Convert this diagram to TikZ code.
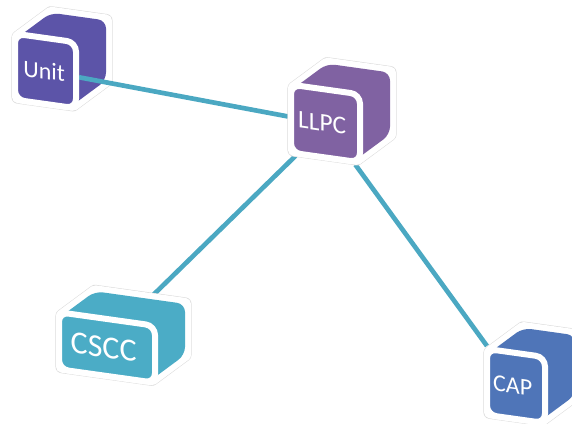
\documentclass[tikz,border=0pt]{standalone}
\usepackage{fontspec}
\setmainfont{Carlito}
\definecolor{unitcol}{HTML}{5C54A8}
\definecolor{llpccol}{HTML}{8062A2}
\definecolor{cscccol}{HTML}{4BACC6}
\definecolor{capcol}{HTML}{4F75B8}
\definecolor{linkcol}{HTML}{4BA8C2}
\pgfdeclarelayer{under}
\pgfdeclarelayer{body}
\pgfdeclarelayer{front}
\pgfsetlayers{under,main,body,front}
\tikzset{
  link/.style={line width=3.5pt,draw=linkcol},
  face/.style={draw=white,line width=4.5pt,rounded corners=7pt,inner sep=0pt,text=white,yslant=-0.14},
}
% name, x, y, width, height, label, label size, layer of the body
\newcommand{\cubenode}[8]{
  \pgfmathsetmacro{\hw}{#4/2}
  \pgfmathsetmacro{\hh}{#5/2}
  \begin{pgfonlayer}{#8}
    \begin{scope}[shift={(#2,#3)},yslant=0.14]
      \draw[line width=9.8pt,line join=round,draw=black!14] (-\hw,-\hh) -- ++(33,-29) -- (\hw+33,-\hh-29) -- (\hw+33,\hh-29) -- (\hw,\hh) -- (-\hw,\hh) -- cycle;
      \draw[line width=9pt,line join=round,draw=white,fill=white] (-\hw,-\hh) -- ++(33,-29) -- (\hw+33,-\hh-29) -- (\hw+33,\hh-29) -- (\hw,\hh) -- (-\hw,\hh) -- cycle;
      \fill[#1col,rounded corners=6pt] (-\hw,-\hh) -- ++(33,-29) -- (\hw+33,-\hh-29) -- (\hw+33,\hh-29) -- (\hw,\hh) -- (-\hw,\hh) -- cycle;
    \end{scope}
  \end{pgfonlayer}
  \begin{pgfonlayer}{front}
    \node[face,fill=#1col,minimum width={(#4+6)*0.75pt},minimum height={(#5+6)*0.75pt},font=\fontsize{#7}{#7}\selectfont] (#1) at (#2,#3) {#6\kern 5pt};
  \end{pgfonlayer}
}

\begin{document}
\begin{tikzpicture}[x=0.75pt,y=0.75pt,yscale=-1,xscale=1]
  \useasboundingbox (0,0) rectangle (572,424);
  \cubenode{unit}{45.5}{71}{55}{60}{\kern 3pt Unit}{18}{under}
  \cubenode{llpc}{325.5}{123.5}{63}{62}{LLPC}{19}{body}
  \cubenode{cscc}{107}{347.5}{90}{51}{CSCC}{24}{body}
  \cubenode{cap}{516}{386}{52}{60}{CAP}{18}{body}
  \draw[link] (unit) -- (llpc);
  \draw[link,shorten <=-8pt] ([yshift=6pt]llpc.south west) -- ([yshift=-5.5pt]cscc.center);
  \draw[link] (llpc) -- (cap);
\end{tikzpicture}
\end{document}
